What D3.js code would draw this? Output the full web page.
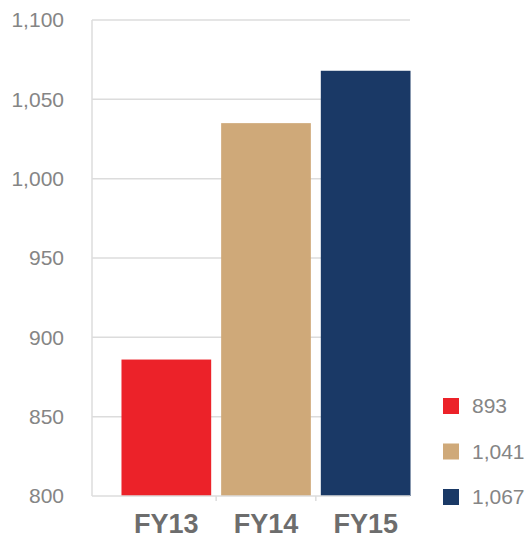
<!DOCTYPE html>
<html>
<head>
<meta charset="utf-8">
<script src="https://cdn.jsdelivr.net/npm/d3@7"></script>
<style>
  body { margin: 0; background: #fff; }
  text { font-family: "Liberation Sans", Arial, sans-serif; }
</style>
</head>
<body>
<div class="chart"></div>
<script>
// data
const years = ["FY13", "FY14", "FY15"];
const barValues = [886, 1035, 1068];
const legendLabels = ["893", "1,041", "1,067"];
const colors = ["#ec2229", "#cfa979", "#1a3966"];
const yTicks = [800, 850, 900, 950, 1000, 1050, 1100];

const W = 530, H = 541;

const svg = d3.select(".chart")
  .append("svg")
  .attr("width", W)
  .attr("height", H);

// scales
const xScale = d3.scaleBand()
  .domain(years)
  .range([116.5, 415.5])
  .paddingInner(0.1)
  .paddingOuter(0.05);

const yScale = d3.scaleLinear()
  .domain([800, 1100])
  .range([496, 20]);

const left = 92, right = 410;

// gridlines
svg.append("g")
  .selectAll("line")
  .data(yTicks.slice(1))
  .enter()
  .append("line")
  .attr("x1", left)
  .attr("x2", right)
  .attr("y1", d => yScale(d))
  .attr("y2", d => yScale(d))
  .attr("stroke", "#dcdcdc")
  .attr("stroke-width", 1.5);

// y axis line
svg.append("line")
  .attr("x1", left).attr("x2", left)
  .attr("y1", yScale(1100)).attr("y2", yScale(800))
  .attr("stroke", "#dcdcdc")
  .attr("stroke-width", 1.5);

// y labels
svg.append("g")
  .selectAll("text")
  .data(yTicks)
  .enter()
  .append("text")
  .attr("x", 64)
  .attr("y", d => yScale(d))
  .attr("dy", "0.35em")
  .attr("text-anchor", "end")
  .attr("fill", "#858585")
  .style("font-size", "21px")
  .text(d => d3.format(",")(d));

// bars
svg.append("g")
  .selectAll("rect")
  .data(barValues)
  .enter()
  .append("rect")
  .attr("x", (d, i) => xScale(years[i]))
  .attr("y", d => yScale(d))
  .attr("width", xScale.bandwidth())
  .attr("height", d => yScale(800) - yScale(d))
  .attr("fill", (d, i) => colors[i]);

// x axis line + ticks between bands
svg.append("line")
  .attr("x1", left).attr("x2", right)
  .attr("y1", yScale(800)).attr("y2", yScale(800))
  .attr("stroke", "#dcdcdc")
  .attr("stroke-width", 1.5);

const step = xScale.step();
svg.append("g")
  .selectAll("line")
  .data(years.slice(1))
  .enter()
  .append("line")
  .attr("x1", d => xScale(d) - step * xScale.paddingInner() / 2)
  .attr("x2", d => xScale(d) - step * xScale.paddingInner() / 2)
  .attr("y1", yScale(800))
  .attr("y2", yScale(800) + 5)
  .attr("stroke", "#dcdcdc")
  .attr("stroke-width", 1.5);

// x labels
svg.append("g")
  .selectAll("text")
  .data(years)
  .enter()
  .append("text")
  .attr("x", d => xScale(d) + xScale.bandwidth() / 2)
  .attr("y", 533)
  .attr("text-anchor", "middle")
  .attr("fill", "#6d6d6d")
  .style("font-size", "27px")
  .style("font-weight", "bold")
  .text(d => d);

// legend
const legend = svg.append("g")
  .selectAll("g")
  .data(legendLabels)
  .enter()
  .append("g")
  .attr("transform", (d, i) => `translate(443, ${406 + i * 45.5})`);

legend.append("rect")
  .attr("x", 0)
  .attr("y", -8)
  .attr("width", 16)
  .attr("height", 16)
  .attr("fill", (d, i) => colors[i]);

legend.append("text")
  .attr("x", 29)
  .attr("y", 0)
  .attr("dy", "0.35em")
  .attr("fill", "#858585")
  .style("font-size", "21px")
  .text(d => d);
</script>
</body>
</html>
